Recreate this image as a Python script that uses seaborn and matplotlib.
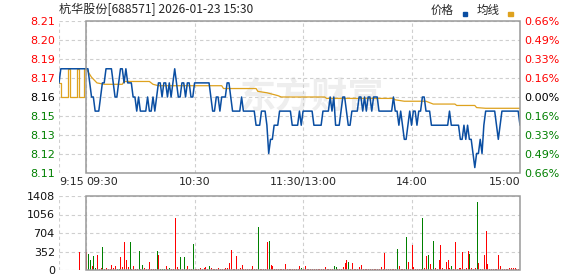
import numpy as np
import pandas as pd
import matplotlib
matplotlib.use("Agg")
import matplotlib.pyplot as plt
from matplotlib.patches import Rectangle
import seaborn as sns

# ---------------- data ----------------
title = "杭华股份[688571] 2026-01-23 15:30"
pre_close = 8.16
pct_range = 0.0066

price_ticklabels = ["8.21", "8.20", "8.19", "8.17", "8.16", "8.15", "8.13", "8.12", "8.11"]
pct_ticklabels = ["0.66%", "0.49%", "0.33%", "0.16%", "0.00%", "0.16%", "0.33%", "0.49%", "0.66%"]
vol_ticks = [0, 352, 704, 1056, 1408]
vol_ticklabels = ["0", "352", "704", "1056", "1408"]
time_ticks = [-15, 0, 60, 120, 180, 240]
time_labels = ["9:15", "09:30", "10:30", "11:30/13:00", "14:00", "15:00"]

# call auction (minutes relative to 09:30)
pre_minutes = list(range(-15, 1))
pre_price = [8.17, 8.18, 8.18, 8.18, 8.18, 8.18, 8.18, 8.18,
             8.18, 8.18, 8.18, 8.18, 8.18, 8.18, 8.18, 8.18]
pre_avg = [8.17, 8.16, 8.16, 8.16, 8.16, 8.18, 8.16, 8.16,
           8.16, 8.16, 8.18, 8.16, 8.16, 8.16, 8.18, 8.18]
pre_vol_minute = [-4]
pre_vol = [348]
pre_vol_dir = ["r"]

# trading minutes (0 = 09:30, 120 = 11:30/13:00, 240 = 15:00)
minutes = list(range(0, 241))
price = [
    8.18, 8.18, 8.17, 8.16, 8.16, 8.15, 8.15, 8.15, 8.16, 8.17,
    8.17, 8.18, 8.18, 8.18, 8.18, 8.17, 8.16, 8.16, 8.17, 8.18,
    8.18, 8.17, 8.18, 8.17, 8.17, 8.17, 8.16, 8.16, 8.15, 8.16,
    8.15, 8.15, 8.15, 8.15, 8.16, 8.15, 8.15, 8.16, 8.15, 8.16,
    8.17, 8.17, 8.16, 8.17, 8.17, 8.16, 8.17, 8.16, 8.17, 8.18,
    8.17, 8.16, 8.16, 8.17, 8.17, 8.16, 8.17, 8.17, 8.16, 8.16,
    8.17, 8.17, 8.17, 8.17, 8.17, 8.17, 8.17, 8.17, 8.17, 8.16,
    8.15, 8.15, 8.16, 8.16, 8.15, 8.16, 8.16, 8.16, 8.17, 8.17,
    8.16, 8.15, 8.15, 8.15, 8.15, 8.15, 8.16, 8.15, 8.15, 8.15,
    8.15, 8.15, 8.15, 8.15, 8.14, 8.14, 8.14, 8.15, 8.15, 8.15,
    8.14, 8.12, 8.13, 8.13, 8.14, 8.14, 8.14, 8.15, 8.15, 8.15,
    8.15, 8.15, 8.15, 8.15, 8.14, 8.14, 8.14, 8.14, 8.15, 8.14,
    8.15, 8.15, 8.15, 8.15, 8.15, 8.15, 8.14, 8.14, 8.14, 8.14,
    8.14, 8.15, 8.15, 8.15, 8.15, 8.16, 8.15, 8.16, 8.14, 8.14,
    8.14, 8.15, 8.16, 8.16, 8.15, 8.14, 8.14, 8.15, 8.15, 8.15,
    8.15, 8.16, 8.16, 8.15, 8.16, 8.15, 8.16, 8.16, 8.15, 8.16,
    8.16, 8.16, 8.15, 8.15, 8.15, 8.15, 8.15, 8.15, 8.15, 8.15,
    8.16, 8.15, 8.15, 8.14, 8.15, 8.14, 8.13, 8.13, 8.14, 8.15,
    8.14, 8.15, 8.15, 8.14, 8.15, 8.15, 8.16, 8.16, 8.15, 8.15,
    8.15, 8.14, 8.14, 8.14, 8.14, 8.14, 8.14, 8.14, 8.14, 8.14,
    8.14, 8.15, 8.14, 8.14, 8.14, 8.14, 8.14, 8.13, 8.13, 8.14,
    8.13, 8.14, 8.13, 8.13, 8.12, 8.11, 8.12, 8.12, 8.13, 8.12,
    8.14, 8.15, 8.15, 8.15, 8.15, 8.15, 8.15, 8.14, 8.13, 8.14,
    8.15, 8.15, 8.15, 8.15, 8.15, 8.15, 8.15, 8.15, 8.15, 8.15,
    8.14,
]

avg_minutes = [0, 3, 6, 10, 20, 21, 35, 37, 40, 75, 76, 94, 95, 100, 106, 108,
               132, 133, 170, 171, 176, 188, 190, 192, 204, 205, 215, 216, 221, 240]
avg_values = [8.180, 8.174, 8.170, 8.169, 8.169, 8.171, 8.171, 8.169, 8.168, 8.168,
              8.166, 8.166, 8.164, 8.163, 8.161, 8.160, 8.160, 8.159, 8.159, 8.158,
              8.157, 8.157, 8.156, 8.155, 8.155, 8.154, 8.154, 8.1525, 8.152, 8.152]

volume = [
    348, 304, 190, 76, 266, 30, 285, 20, 40, 437,
    20, 30, 20, 25, 90, 30, 80, 20, 25, 247,
    50, 532, 190, 60, 532, 20, 85, 20, 20, 370,
    20, 100, 40, 20, 20, 150, 20, 20, 20, 361,
    285, 20, 20, 20, 70, 20, 30, 20, 20, 990,
    60, 20, 247, 20, 247, 20, 76, 20, 20, 494,
    20, 20, 20, 30, 20, 30, 57, 20, 76, 40,
    20, 20, 20, 40, 20, 20, 20, 30, 30, 140,
    380, 20, 20, 275, 20, 30, 90, 20, 20, 20,
    20, 20, 76, 20, 20, 820, 20, 20, 20, 20,
    540, 555, 95, 76, 20, 20, 20, 20, 20, 20,
    120, 20, 20, 20, 20, 20, 20, 20, 76, 30,
    20, 76, 20, 20, 20, 20, 20, 20, 20, 20,
    20, 20, 57, 20, 20, 20, 20, 76, 57, 20,
    20, 20, 57, 127, 190, 152, 20, 139, 20, 20,
    20, 57, 95, 20, 20, 20, 20, 20, 20, 20,
    20, 20, 20, 57, 20, 330, 20, 20, 20, 20,
    20, 20, 400, 76, 20, 20, 20, 628, 158, 20,
    476, 57, 20, 20, 20, 20, 990, 30, 266, 285,
    120, 20, 552, 40, 20, 190, 476, 40, 20, 152,
    190, 30, 76, 20, 532, 20, 40, 40, 342, 20,
    40, 361, 304, 40, 20, 30, 1293, 139, 20, 20,
    285, 742, 114, 20, 20, 20, 20, 20, 285, 76,
    20, 20, 20, 20, 40, 40, 40, 30, 20, 10,
    913,
]
volume_dir = (
    "rggrggrrrg" "rrrrrrrggr" "rrrrgrrrrg" "rgrrrrrrrg" "rgggrrgrrr"
    "rrgrgrrrrg" "rrrrrrrrgr" "rrrrrrrrrr" "rrrrrrrrrr" "rrrrrgrrrr"
    "rgrrrrrrrr" "rrrrrrrrrg" "rrrrrrrrrr" "rrrrrrrggr" "rrrrrgrrrr"
    "rrrrrrrrrr" "rrrrrrrrrr" "rrgrrrrgrr" "rrrrrrgrrg" "rrgrrrrrrr"
    "rrgrrrrrrr" "rrgrrrgrgr" "rrrrrrrrrr" "rrrrrrrrrr" "g"
)

# ---------------- style ----------------
sns.set_style("white")
plt.rcParams["font.family"] = ["DejaVu Sans", "Noto Sans CJK SC"]
CJK = ["Noto Sans CJK SC", "DejaVu Sans"]
BLUE = "#0a4ea2"
GOLD = "#dea21e"
RED = "#ff0000"
GREEN = "#008000"
GRID = "#cfcfcf"
FRAME = "#9a9a9a"
dash = (0, (3, 2.5))

W, H = 578, 276
fig = plt.figure(figsize=(W / 100, H / 100), dpi=100)
fig.patch.set_facecolor("white")
ax = fig.add_axes([59 / W, (H - 173) / H, 461 / W, 152 / H])
axv = fig.add_axes([59 / W, (H - 270) / H, 461 / W, 74 / H])

lo = pre_close * (1 - pct_range)
hi = pre_close * (1 + pct_range)
levels = np.linspace(hi, lo, len(price_ticklabels))

for a in (ax, axv):
    a.set_xlim(-15, 240)
    for s in a.spines.values():
        s.set_visible(False)
    a.set_axisbelow(True)
    a.grid(True, color=GRID, linestyle=dash, linewidth=0.8)
    a.set_xticks(time_ticks)
    a.tick_params(length=0)

# ---------------- price panel ----------------
ax.set_ylim(lo, hi)
ax.set_yticks(levels)
ax.set_yticklabels(price_ticklabels)
ax.tick_params(axis="y", pad=3, labelsize=8)
ax.tick_params(axis="x", pad=3, labelsize=8)
for i, lab in enumerate(ax.get_yticklabels()):
    lab.set_color(RED if levels[i] > pre_close + 1e-9 else (GREEN if levels[i] < pre_close - 1e-9 else "black"))
ax.set_xticklabels(time_labels)
for lab, ha in zip(ax.get_xticklabels(), ["left", "left", "center", "center", "center", "right"]):
    lab.set_ha(ha)

axr = ax.twinx()
axr.set_ylim(lo, hi)
axr.set_yticks(levels)
axr.set_yticklabels(pct_ticklabels)
axr.tick_params(axis="y", pad=3, labelsize=8, length=0)
for s in axr.spines.values():
    s.set_visible(False)
for i, lab in enumerate(axr.get_yticklabels()):
    lab.set_color(RED if levels[i] > pre_close + 1e-9 else (GREEN if levels[i] < pre_close - 1e-9 else "black"))

# watermark
ax.text(125, pre_close, "东方财富", fontsize=26, fontweight="bold", color="#eeeeee",
        ha="center", va="center", family=CJK, zorder=0.2)

sns.lineplot(x=pre_minutes, y=pre_avg, ax=ax, color=GOLD, linewidth=0.9,
             drawstyle="steps-post", estimator=None, sort=False, zorder=3)
sns.lineplot(x=pre_minutes, y=pre_price, ax=ax, color=BLUE, linewidth=1.1,
             estimator=None, sort=False, zorder=4)
sns.lineplot(x=avg_minutes, y=avg_values, ax=ax, color=GOLD, linewidth=0.9,
             estimator=None, sort=False, zorder=3)
sns.lineplot(x=minutes, y=price, ax=ax, color=BLUE, linewidth=1.1,
             estimator=None, sort=False, zorder=4)
ax.set_xlim(-15, 240)
ax.set_ylim(lo, hi)
ax.set_xlabel("")
ax.set_ylabel("")

ax.add_patch(Rectangle((0, lo), 240, hi - lo, fill=False, edgecolor=FRAME,
                       linewidth=1.1, clip_on=False, zorder=6))

# ---------------- volume panel ----------------
axv.set_ylim(0, vol_ticks[-1])
axv.set_yticks(vol_ticks)
axv.set_yticklabels(vol_ticklabels)
axv.tick_params(axis="y", pad=3, labelsize=8, labelcolor="#111111")
axv.tick_params(axis="x", labelbottom=False)

vcolors = [RED if d == "r" else GREEN for d in volume_dir]
pcolors = [RED if d == "r" else GREEN for d in pre_vol_dir]
axv.vlines(pre_vol_minute, 0, pre_vol, colors=pcolors, linewidth=0.72, antialiased=False, zorder=3)
axv.vlines(minutes, 0, volume, colors=vcolors, linewidth=0.72, antialiased=False, zorder=3)
axv.add_patch(Rectangle((0, 0), 240, vol_ticks[-1], fill=False, edgecolor=FRAME,
                        linewidth=1.1, clip_on=False, zorder=6))

# ---------------- title & legend ----------------
fig.text(59 / W, 1 - 9.5 / H, title, ha="left", va="center", fontsize=8.7, family=CJK)
fig.text(442.5 / W, 1 - 10 / H, "价格", ha="center", va="center", fontsize=8.3, family=CJK)
fig.text(488.5 / W, 1 - 10 / H, "均线", ha="center", va="center", fontsize=8.3, family=CJK)
fig.patches.append(Rectangle((463 / W, 1 - 15.5 / H), 4.5 / W, 3 / H,
                             transform=fig.transFigure, color=BLUE))
fig.patches.append(Rectangle((508 / W, 1 - 15.5 / H), 4.5 / W, 3 / H,
                             transform=fig.transFigure, color=GOLD))

fig.savefig("out.png", dpi=100)
